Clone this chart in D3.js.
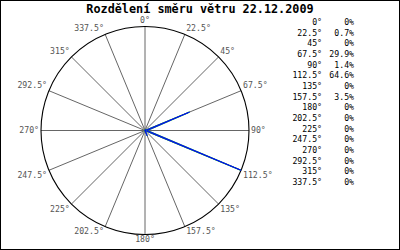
<!DOCTYPE html>
<html>
<head>
<meta charset="utf-8">
<script src="https://cdn.jsdelivr.net/npm/d3@7"></script>
<style>
  body { margin: 0; background: #fff; }
  svg { display: block; }
</style>
</head>
<body>
<svg id="rose" width="400" height="250"></svg>
<script>
const TITLE = "Rozdělení směru větru 22.12.2009";
const DIRECTIONS = [0, 22.5, 45, 67.5, 90, 112.5, 135, 157.5, 180, 202.5, 225, 247.5, 270, 292.5, 315, 337.5];
const DIR_LABELS = ["0°", "22.5°", "45°", "67.5°", "90°", "112.5°", "135°", "157.5°", "180°", "202.5°", "225°", "247.5°", "270°", "292.5°", "315°", "337.5°"];
const SHARES = [0, 0.7, 0, 29.9, 1.4, 64.6, 0, 3.5, 0, 0, 0, 0, 0, 0, 0, 0];

const W = 400, H = 250;
const center = { x: 145, y: 130.5 };
const radius = 104;
const font = "'DejaVu Sans Mono', monospace";

const svg = d3.select("#rose");

svg.append("rect")
  .attr("x", 0.5).attr("y", 0.5)
  .attr("width", W - 1).attr("height", H - 1)
  .attr("fill", "#fff").attr("stroke", "#000");

svg.append("text")
  .attr("x", 200).attr("y", 13)
  .attr("text-anchor", "middle")
  .style("font-family", font)
  .style("font-weight", "bold")
  .style("font-size", "11.8px")
  .text(TITLE);

const angle = d3.scaleLinear().domain([0, 360]).range([0, 2 * Math.PI]);
const rScale = d3.scaleLinear().domain([0, d3.max(SHARES)]).range([0, radius]);

const g = svg.append("g").attr("transform", `translate(${center.x},${center.y})`);

// spokes
g.selectAll(".spoke")
  .data(DIRECTIONS)
  .enter()
  .append("line")
  .classed("spoke", true)
  .attr("x1", 0).attr("y1", 0)
  .attr("x2", (d) => radius * Math.sin(angle(d)))
  .attr("y2", (d) => -radius * Math.cos(angle(d)))
  .attr("stroke", "#666")
  .attr("stroke-width", 1);

g.append("circle")
  .attr("r", radius)
  .attr("fill", "none")
  .attr("stroke", "#000")
  .attr("stroke-width", 1.1);

// direction labels
g.selectAll(".dirlabel")
  .data(DIRECTIONS)
  .enter()
  .append("text")
  .classed("dirlabel", true)
  .attr("x", (d) => {
    const s = Math.sin(angle(d));
    return (radius + 1) * s + (s > 0.01 ? 1 : s < -0.01 ? -1 : 0);
  })
  .attr("y", (d) => -(radius + 1) * Math.cos(angle(d)))
  .attr("dy", (d) => {
    const c = Math.cos(angle(d));
    return c > 0.01 ? "-0.25em" : c < -0.01 ? "0.85em" : "0.32em";
  })
  .attr("text-anchor", (d) => {
    const s = Math.sin(angle(d));
    return s > 0.01 ? "start" : s < -0.01 ? "end" : "middle";
  })
  .style("font-family", font)
  .style("font-size", "8.2px")
  .style("fill", "#555")
  .text((d, i) => DIR_LABELS[i]);

// data polygon
const radial = d3.lineRadial()
  .angle((d, i) => angle(DIRECTIONS[i]))
  .radius((d) => rScale(d))
  .curve(d3.curveLinearClosed);

g.append("path")
  .attr("d", radial(SHARES))
  .attr("fill", "none")
  .attr("stroke", "#22cc22")
  .attr("stroke-width", 1.3);

g.append("path")
  .attr("d", radial(SHARES))
  .attr("fill", "none")
  .attr("stroke", "#0000ff")
  .attr("stroke-width", 0.9);

// legend table
const legend = svg.append("g");
const rowY = d3.scaleLinear().domain([0, DIRECTIONS.length - 1]).range([25, 185]);

legend.selectAll(".ldir")
  .data(DIR_LABELS)
  .enter()
  .append("text")
  .attr("x", 322)
  .attr("y", (d, i) => rowY(i))
  .attr("text-anchor", "end")
  .style("font-family", font)
  .style("font-size", "8.2px")
  .style("fill", "#000")
  .text((d) => d);

legend.selectAll(".lval")
  .data(SHARES)
  .enter()
  .append("text")
  .attr("x", 354)
  .attr("y", (d, i) => rowY(i))
  .attr("text-anchor", "end")
  .style("font-family", font)
  .style("font-size", "8.2px")
  .style("fill", "#000")
  .text((d) => `${d}%`);
</script>
</body>
</html>
